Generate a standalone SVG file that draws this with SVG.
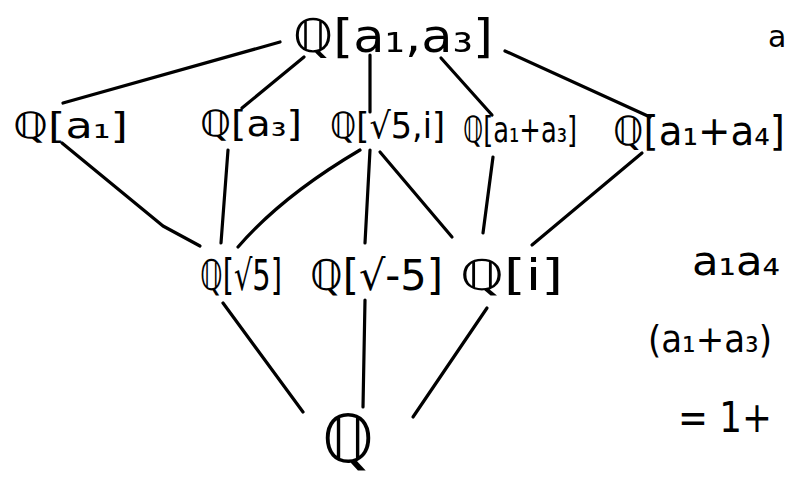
<svg xmlns="http://www.w3.org/2000/svg" width="789" height="477" viewBox="0 0 789 477">
<style>
.e{fill:none;stroke:#000;stroke-width:3.2;stroke-linecap:round;stroke-linejoin:round}
text{font-family:"DejaVu Sans","Noto Sans",sans-serif;fill:#000}
.r2{font-size:36px}
.r3{font-size:42px}
</style>
<rect width="789" height="477" fill="#fff"/>
<g id="connectors">
<path class="e" d="M280,42 L63,103"/>
<path class="e" d="M304,57 L242,108"/>
<path class="e" d="M370,55 L370,112"/>
<path class="e" d="M441,58 L492,115"/>
<path class="e" d="M505,51 L650,117"/>
<path class="e" d="M62,143 L163,226 L200,246"/>
<path class="e" d="M228,150 L221,243"/>
<path class="e" d="M360,150 Q282,196 238,247"/>
<path class="e" d="M370,150 L365,243"/>
<path class="e" d="M380,152 L452,237"/>
<path class="e" d="M493,157 L483,233"/>
<path class="e" d="M642,153 L532,245"/>
<path class="e" d="M223,303 L303,412"/>
<path class="e" d="M365,300 L363,407"/>
<path class="e" d="M487,308 L413,417"/>
</g>
<g id="top"><text x="293" y="52" font-size="46" textLength="200" lengthAdjust="spacingAndGlyphs">ℚ[a₁,a₃]</text></g>
<g id="q_a1"><text class="r2" x="13" y="138" textLength="115" lengthAdjust="spacingAndGlyphs">ℚ[a₁]</text></g>
<g id="q_a3"><text class="r2" x="200" y="136" textLength="102" lengthAdjust="spacingAndGlyphs">ℚ[a₃]</text></g>
<g id="q_s5i"><text class="r2" x="330" y="138" textLength="115" lengthAdjust="spacingAndGlyphs">ℚ[√5,i]</text></g>
<g id="q_a1a3"><text class="r2" x="463" y="142" textLength="114" lengthAdjust="spacingAndGlyphs">ℚ[a₁+a₃]</text></g>
<g id="q_a1a4"><text x="613" y="145" font-size="40" textLength="172" lengthAdjust="spacingAndGlyphs">ℚ[a₁+a₄]</text></g>
<g id="q_s5"><text class="r3" x="200" y="290" textLength="82" lengthAdjust="spacingAndGlyphs">ℚ[√5]</text></g>
<g id="q_sm5"><text class="r3" x="310" y="290" textLength="133" lengthAdjust="spacingAndGlyphs">ℚ[√-5]</text></g>
<g id="q_i"><text class="r3" x="460" y="290" textLength="103" lengthAdjust="spacingAndGlyphs">ℚ[i]</text></g>
<g id="q"><text x="348" y="462" font-size="66" text-anchor="middle">ℚ</text></g>
<g id="notes">
<text x="768" y="47" font-size="30">a</text>
<text x="692" y="275" font-size="40" textLength="88" lengthAdjust="spacingAndGlyphs">a₁a₄</text>
<text x="648" y="352" font-size="38" textLength="124" lengthAdjust="spacingAndGlyphs">(a₁+a₃)</text>
<text x="678" y="432" font-size="42" textLength="94" lengthAdjust="spacingAndGlyphs">= 1+</text>
</g>
</svg>
